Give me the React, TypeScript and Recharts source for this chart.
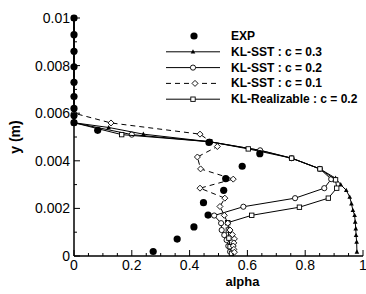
import React from 'react';
import { ScatterChart, Scatter, XAxis, YAxis, Legend } from 'recharts';

// ---------- data ----------
const expAlpha = [0, 0, 0, 0, 0, 0, 0, 0, 0, 0.082, 0.467, 0.643, 0.582, 0.525, 0.518, 0.448, 0.464, 0.415, 0.357, 0.274];
const expY = [0.01, 0.0093, 0.0086, 0.00795, 0.0073, 0.0067, 0.0062, 0.0059, 0.0056, 0.00528, 0.00477, 0.0043, 0.00377, 0.00325, 0.00276, 0.00224, 0.00172, 0.00122, 0.00071, 0.00019];

const sst03Alpha = [0, 0, 0.12, 0.24, 0.47, 0.644, 0.753, 0.851, 0.905, 0.923, 0.942, 0.954, 0.96, 0.965, 0.971, 0.973, 0.975, 0.976, 0.978, 0.979];
const sst03Y = [0.01, 0.0056, 0.0054, 0.00512, 0.0048, 0.00444, 0.00411, 0.00366, 0.00327, 0.003, 0.00276, 0.00248, 0.0022, 0.00192, 0.00171, 0.00143, 0.00115, 0.00087, 0.00059, 0.00017];

const sst02Alpha = [0, 0, 0.2, 0.47, 0.644, 0.753, 0.851, 0.89, 0.866, 0.765, 0.586, 0.485, 0.509, 0.511, 0.52, 0.528, 0.534, 0.54];
const sst02Y = [0.01, 0.0056, 0.0051, 0.0048, 0.00444, 0.00411, 0.00366, 0.00323, 0.00285, 0.00243, 0.00207, 0.0017, 0.00138, 0.00109, 0.00088, 0.00067, 0.00042, 0.00018];

const sst01Alpha = [0, 0, 0.128, 0.436, 0.496, 0.427, 0.438, 0.551, 0.436, 0.522, 0.505, 0.52, 0.532, 0.54, 0.548, 0.555, 0.553, 0.551, 0.553, 0.555];
const sst01Y = [0.01, 0.006, 0.00559, 0.00512, 0.0046, 0.00416, 0.00366, 0.00323, 0.00285, 0.00243, 0.00208, 0.00171, 0.00138, 0.00109, 0.0009, 0.00072, 0.00055, 0.00042, 0.00028, 0.00016];

const realAlpha = [0, 0, 0.165, 0.47, 0.603, 0.753, 0.851, 0.905, 0.909, 0.88, 0.78, 0.615, 0.532, 0.534, 0.536, 0.54, 0.545];
const realY = [0.01, 0.0056, 0.0051, 0.0048, 0.0045, 0.00411, 0.00366, 0.0032, 0.00285, 0.00243, 0.00205, 0.00171, 0.0014, 0.00109, 0.00075, 0.00039, 0.00011];

const xTicks = [0, 0.05, 0.1, 0.15, 0.2, 0.25, 0.3, 0.35, 0.4, 0.45, 0.5, 0.55, 0.6, 0.65, 0.7, 0.75, 0.8, 0.85, 0.9, 0.95, 1];
const xTickLabels = ['0', '', '', '', '0.2', '', '', '', '0.4', '', '', '', '0.6', '', '', '', '0.8', '', '', '', '1'];
const yTicks = [0, 0.001, 0.002, 0.003, 0.004, 0.005, 0.006, 0.007, 0.008, 0.009, 0.01];
const yTickLabels = ['0', '', '0.002', '', '0.004', '', '0.006', '', '0.008', '', '0.01'];

const legendLabels = ['EXP', 'KL-SST : c = 0.3', 'KL-SST : c = 0.2', 'KL-SST : c = 0.1', 'KL-Realizable : c = 0.2'];

const pts = (xs: number[], ys: number[]) => xs.map((x, i) => ({ x, y: ys[i] }));

const FONT = '"Liberation Sans", Arial, Helvetica, sans-serif';

// ---------- markers ----------
const Dot = ({ cx, cy }: any) => <circle cx={cx} cy={cy} r={3.6} fill="#000" />;
const Tri = ({ cx, cy }: any) => (
  <path d={`M${cx},${cy - 2.6} L${cx + 2.3},${cy + 1.8} L${cx - 2.3},${cy + 1.8} Z`} fill="#000" />
);
const Circ = ({ cx, cy }: any) => <circle cx={cx} cy={cy} r={2.6} fill="#fff" stroke="#000" strokeWidth={0.9} />;
const Diam = ({ cx, cy }: any) => (
  <path d={`M${cx},${cy - 3} L${cx + 3},${cy} L${cx},${cy + 3} L${cx - 3},${cy} Z`} fill="#fff" stroke="#000" strokeWidth={0.9} />
);
const Sq = ({ cx, cy }: any) => (
  <rect x={cx - 2.2} y={cy - 2.2} width={4.4} height={4.4} fill="#fff" stroke="#000" strokeWidth={0.9} />
);

// ---------- ticks ----------
const XTick = (props: any) => {
  const { x, y, payload } = props;
  const idx = xTicks.indexOf(payload.value);
  const lab = xTickLabels[idx] || '';
  const len = lab ? 6 : 3;
  return (
    <g>
      <line x1={x} x2={x} y1={y} y2={y - len} stroke="#000" strokeWidth={1} />
      {lab && (
        <text x={x} y={y + 14} textAnchor="middle" fontSize={14} fontFamily={FONT} fill="#000">
          {lab}
        </text>
      )}
    </g>
  );
};

const YTick = (props: any) => {
  const { x, y, payload } = props;
  const idx = yTicks.indexOf(payload.value);
  const lab = yTickLabels[idx] || '';
  const len = lab ? 6 : 3;
  return (
    <g>
      <line x1={x} x2={x + len} y1={y} y2={y} stroke="#000" strokeWidth={1} />
      {lab && (
        <text x={x - 4} y={y} textAnchor="end" dominantBaseline="central" fontSize={14} fontFamily={FONT} fill="#000">
          {lab}
        </text>
      )}
    </g>
  );
};

// ---------- legend ----------
const legendMarkers = [Dot, Tri, Circ, Diam, Sq];
const LegendSvg = () => (
  <svg width={210} height={84} style={{ display: 'block' }}>
    {legendLabels.map((lab, i) => {
      const cy = 8 + i * 15.8;
      const M = legendMarkers[i];
      return (
        <g key={lab}>
          {i > 0 && (
            <line
              x1={6}
              x2={60}
              y1={cy}
              y2={cy}
              stroke="#000"
              strokeWidth={1}
              strokeDasharray={i === 3 ? '5 4' : undefined}
            />
          )}
          <M cx={i === 0 ? 34 : i === 3 ? 35 : 33} cy={cy} />
          <text x={71} y={cy} dominantBaseline="central" fontSize={12} fontWeight="bold" fontFamily={FONT} fill="#000">
            {lab}
          </text>
        </g>
      );
    })}
  </svg>
);

const XLabel = (p: any) => {
  const vb = p.viewBox || {};
  return (
    <text x={vb.x + vb.width / 2 + 24} y={vb.y + 25} textAnchor="middle" dominantBaseline="central" fontSize={13} fontWeight="bold" fontFamily={FONT} fill="#000">
      alpha
    </text>
  );
};

const YLabel = (p: any) => {
  const vb = p.viewBox || {};
  const cx = vb.x + 15;
  const cy = vb.y + vb.height / 2;
  return (
    <text x={cx} y={cy} transform={`rotate(-90 ${cx} ${cy})`} textAnchor="middle" dominantBaseline="central" fontSize={14} fontWeight="bold" fontFamily={FONT} fill="#000">
      y (m)
    </text>
  );
};

export default function App() {
  return (
    <div style={{ position: 'absolute', left: 0, top: 0, background: '#fff' }}>
      <ScatterChart width={366} height={294} margin={{ top: 18, right: 3, bottom: 0, left: 0 }}>
        <XAxis
          type="number"
          dataKey="x"
          domain={[0, 1]}
          ticks={xTicks}
          interval={0}
          tickSize={0}
          tickMargin={0}
          tickLine={false}
          tick={<XTick />}
          axisLine={{ stroke: '#000', strokeWidth: 1.5 }}
          height={38}
          label={<XLabel />}
        />
        <YAxis
          type="number"
          dataKey="y"
          domain={[0, 0.01]}
          ticks={yTicks}
          interval={0}
          tickSize={0}
          tickMargin={0}
          tickLine={false}
          tick={<YTick />}
          axisLine={{ stroke: '#000', strokeWidth: 1.5 }}
          width={74}
          label={<YLabel />}
        />
        <Legend
          layout="vertical"
          align="center"
          verticalAlign="middle"
          wrapperStyle={{ left: 160, top: 28, width: 210 }}
          content={() => <LegendSvg />}
        />
        <Scatter name="KL-SST : c = 0.3" data={pts(sst03Alpha, sst03Y)} line={{ stroke: '#000', strokeWidth: 1 }} lineType="joint" shape={<Tri />} isAnimationActive={false} />
        <Scatter name="KL-SST : c = 0.2" data={pts(sst02Alpha, sst02Y)} line={{ stroke: '#000', strokeWidth: 1 }} lineType="joint" shape={<Circ />} isAnimationActive={false} />
        <Scatter name="KL-Realizable : c = 0.2" data={pts(realAlpha, realY)} line={{ stroke: '#000', strokeWidth: 1 }} lineType="joint" shape={<Sq />} isAnimationActive={false} />
        <Scatter name="KL-SST : c = 0.1" data={pts(sst01Alpha, sst01Y)} line={{ stroke: '#000', strokeWidth: 1, strokeDasharray: '5 4' }} lineType="joint" shape={<Diam />} isAnimationActive={false} />
        <Scatter name="EXP" data={pts(expAlpha, expY)} shape={<Dot />} isAnimationActive={false} />
      </ScatterChart>
    </div>
  );
}
